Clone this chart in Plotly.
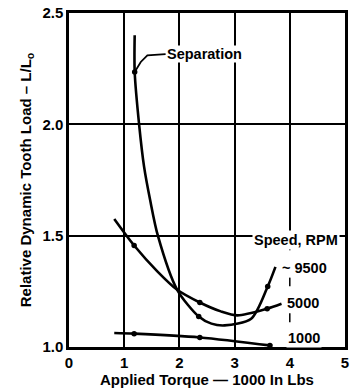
import plotly.graph_objects as go

# ~9500 RPM curve (also marks "Separation")
torque_9500 = [1.19, 1.19, 1.27, 1.36, 1.47, 1.61, 1.96, 2.35, 2.58, 2.82, 3.30, 3.60, 3.74]
load_9500 = [2.40, 2.235, 2.00, 1.81, 1.66, 1.50, 1.257, 1.137, 1.105, 1.097, 1.127, 1.272, 1.36]
mk_torque_9500 = [1.19, 2.35, 3.60]
mk_load_9500 = [2.235, 1.137, 1.272]

# 5000 RPM curve
torque_5000 = [0.82, 1.18, 1.60, 1.96, 2.37, 2.75, 3.05, 3.59, 3.85]
load_5000 = [1.575, 1.456, 1.34, 1.257, 1.20, 1.16, 1.142, 1.172, 1.194]
mk_torque_5000 = [1.18, 2.37, 3.59]
mk_load_5000 = [1.456, 1.20, 1.172]

# 1000 RPM curve
torque_1000 = [0.82, 1.18, 2.37, 3.68]
load_1000 = [1.063, 1.060, 1.043, 1.006]
mk_torque_1000 = [1.18, 2.37, 3.64]
mk_load_1000 = [1.060, 1.043, 1.007]

x_ticks = [0, 1, 2, 3, 4, 5]
y_ticks = [1.0, 1.5, 2.0, 2.5]
y_tick_text = ["1.0", "1.5", "2.0", "2.5"]

FONT = "Liberation Sans"
LW = 2.6

fig = go.Figure()
for xs, ys in [(torque_9500, load_9500), (torque_5000, load_5000), (torque_1000, load_1000)]:
    fig.add_trace(go.Scatter(x=xs, y=ys, mode="lines", line=dict(color="black", width=LW, shape="spline", smoothing=0.8),
                             showlegend=False, hoverinfo="skip"))
for xs, ys in [(mk_torque_9500, mk_load_9500), (mk_torque_5000, mk_load_5000), (mk_torque_1000, mk_load_1000)]:
    fig.add_trace(go.Scatter(x=xs, y=ys, mode="markers", marker=dict(color="black", size=5.5),
                             showlegend=False, hoverinfo="skip"))

# broken gridline at x=4 below "Speed, RPM"
fig.add_shape(type="line", x0=4, x1=4, y0=1.03, y1=1.47, line=dict(color="white", width=3), layer="above")
fig.add_shape(type="line", x0=4, x1=4, y0=1.03, y1=1.47, line=dict(color="black", width=1.5, dash="dash"), layer="above")

# Separation leader
fig.add_shape(type="path", path="M 1.19 2.235 L 1.30 2.28 L 1.42 2.31 L 1.75 2.315",
              line=dict(color="black", width=1.8), layer="above")

tf = dict(family=FONT, size=14.5, color="black", weight="bold")
fig.add_annotation(x=1.76, y=2.316, text="Separation", showarrow=False, xanchor="left", yanchor="middle", font=tf,
                   bgcolor="white", borderpad=0)
fig.add_annotation(x=4.12, y=1.482, text="Speed, RPM", showarrow=False, xanchor="center", yanchor="middle",
                   font=tf, bgcolor="white")
fig.add_annotation(x=3.82, y=1.357, text="~ 9500", showarrow=False, xanchor="left", yanchor="middle", font=tf, bgcolor="white")
fig.add_annotation(x=3.92, y=1.196, text="5000", showarrow=False, xanchor="left", yanchor="middle", font=tf, bgcolor="white")
fig.add_annotation(x=3.94, y=1.039, text="1000", showarrow=False, xanchor="left", yanchor="middle", font=tf, bgcolor="white")

axfont = dict(family=FONT, size=15, color="black", weight="bold")
fig.update_xaxes(range=[0, 5], tickvals=x_ticks, ticktext=[str(v) for v in x_ticks], tickfont=axfont,
                 showgrid=True, gridcolor="black", gridwidth=1.5, zeroline=False,
                 showline=True, linecolor="black", linewidth=2.5, mirror=True, ticks="",
                 title=dict(text="Applied Torque — 1000 In Lbs", font=dict(family=FONT, size=15, color="black", weight="bold"), standoff=1))
fig.update_yaxes(range=[1.0, 2.5], tickvals=y_ticks, ticktext=y_tick_text, tickfont=axfont,
                 showgrid=True, gridcolor="black", gridwidth=1.5, zeroline=False,
                 showline=True, linecolor="black", linewidth=2.5, mirror=True, ticks="",
                 title=dict(text="Relative Dynamic Tooth Load – L/L<sub>o</sub>", font=dict(family=FONT, size=15, color="black", weight="bold"), standoff=8))
fig.update_layout(width=352, height=389, margin=dict(l=69, r=4, t=12, b=42),
                  paper_bgcolor="white", plot_bgcolor="white")
fig.write_html("out.html")
